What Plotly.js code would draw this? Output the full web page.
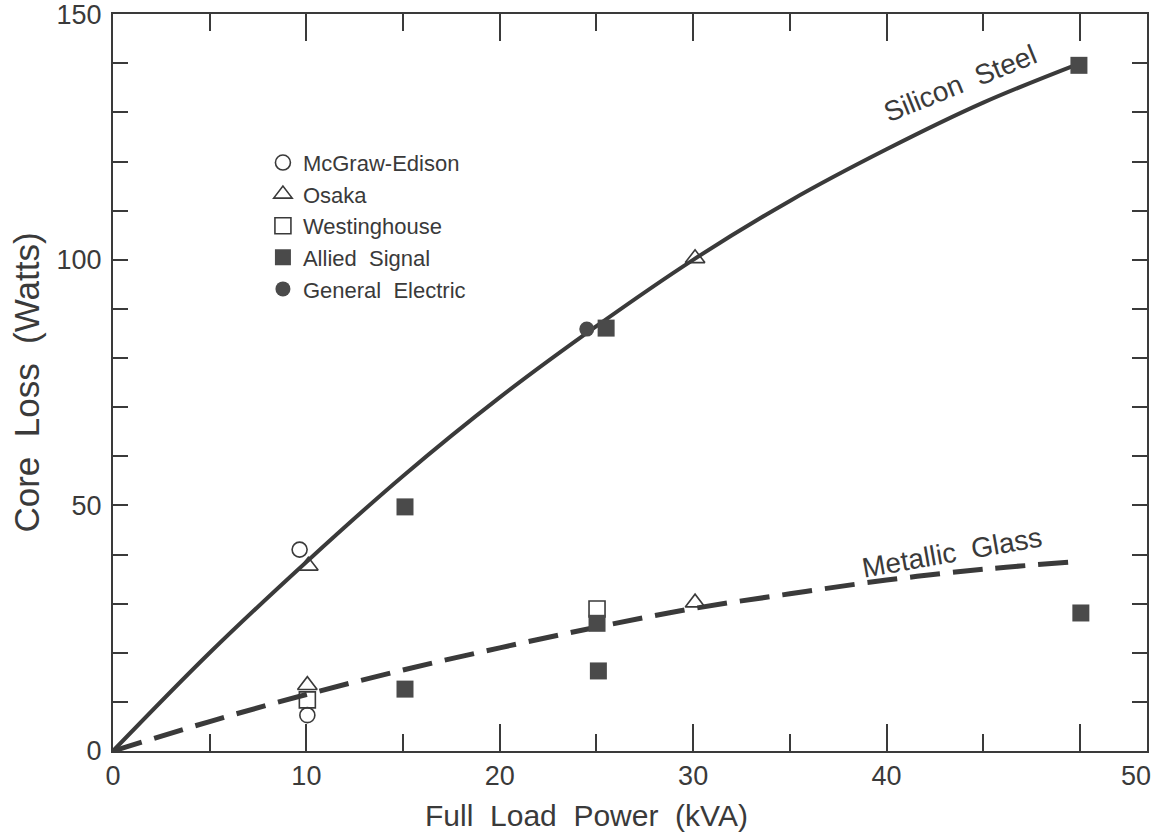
<!DOCTYPE html>
<html>
<head>
<meta charset="utf-8">
<script src="https://cdn.plot.ly/plotly-3.0.1.min.js"></script>
<style>html,body{margin:0;padding:0;background:#fff;}#chart{width:1154px;height:840px;}</style>
</head>
<body>
<div id="chart"></div>
<script>
// ---- data ----
const siliconSteelX = [0, 5, 10, 15, 20, 25, 30, 35, 40, 45, 50];
const siliconSteelY = [0, 20, 38.5, 56, 72, 86.5, 100, 112, 122.5, 132, 140];
const metallicGlassX = [0, 5, 10, 15, 20, 25, 30, 35, 40, 45, 49.7];
const metallicGlassY = [0, 6, 11.5, 16.5, 21, 25.2, 29, 32, 34.8, 37, 38.5];

const mcgrawX = [9.65, 10.05];
const mcgrawY = [41, 7.3];
const osakaX = [10.1, 10.05, 30.1, 30.1];
const osakaY = [37.7, 13.4, 100.3, 30.2];
const westX = [10.05, 25.03];
const westY = [10.4, 28.9];
const alliedX = [15.1, 15.1, 25.03, 25.1, 25.5, 49.95, 50.05];
const alliedY = [49.7, 12.6, 26, 16.3, 86.1, 139.6, 28.1];
const geX = [24.5];
const geY = [85.9];

const xTickVals = [0, 10, 20, 30, 40, 50];
const xTickText = ["0", "10", "20", "30", "40", ""];
const xMinorVals = [5, 15, 25, 35, 45];
const yTickVals = [0, 10, 20, 30, 40, 50, 60, 70, 80, 90, 100, 110, 120, 130, 140, 150];
const yTickText = ["0", "", "", "", "", "50", "", "", "", "", "100", "", "", "", "", "150"];

const ink = '#3a3a3a';
const font = 'Liberation Sans, Arial, sans-serif';

const traces = [
  {x: siliconSteelX, y: siliconSteelY, mode: 'lines', line: {color: ink, width: 4, shape: 'spline'}, showlegend: false, hoverinfo: 'skip'},
  {x: metallicGlassX, y: metallicGlassY, mode: 'lines', line: {color: ink, width: 5, shape: 'spline', dash: '30px,13px'}, showlegend: false, hoverinfo: 'skip'},
  {x: mcgrawX, y: mcgrawY, mode: 'markers', name: 'McGraw-Edison',
   marker: {symbol: 'circle-open', size: 15, color: ink, line: {width: 1.6, color: ink}}},
  {x: osakaX, y: osakaY, mode: 'markers', name: 'Osaka',
   marker: {symbol: 'triangle-up-open', size: 17, color: ink, line: {width: 1.6, color: ink}}},
  {x: westX, y: westY, mode: 'markers', name: 'Westinghouse',
   marker: {symbol: 'square-open', size: 16, color: ink, line: {width: 1.6, color: ink}}},
  {x: alliedX, y: alliedY, mode: 'markers', name: 'Allied  Signal',
   marker: {symbol: 'square', size: 17, color: '#4a4a4a', line: {width: 0}}},
  {x: geX, y: geY, mode: 'markers', name: 'General  Electric',
   marker: {symbol: 'circle', size: 15, color: '#4a4a4a', line: {width: 0}}}
];

const layout = {
  width: 1154, height: 840,
  margin: {l: 113, r: 7, t: 14, b: 89, pad: 0},
  paper_bgcolor: '#fff', plot_bgcolor: '#fff',
  font: {family: font, color: ink},
  showlegend: true,
  legend: {x: 0.145, y: 0.8267, xanchor: 'left', yanchor: 'top', bgcolor: 'rgba(0,0,0,0)',
           font: {size: 22, color: ink, family: font}, borderwidth: 0},
  xaxis: {
    range: [0, 53.47], showgrid: false, zeroline: false,
    showline: true, linecolor: ink, linewidth: 2, mirror: 'ticks',
    ticks: 'inside', ticklen: 27, tickwidth: 2, tickcolor: ink,
    tickmode: 'array', tickvals: xTickVals, ticktext: xTickText,
    tickfont: {size: 27, color: ink, family: font},
    minor: {tickvals: xMinorVals, ticks: 'inside', ticklen: 17, tickwidth: 2, tickcolor: ink, showgrid: false},
    fixedrange: true
  },
  yaxis: {
    range: [0, 150.05], showgrid: false, zeroline: false,
    showline: true, linecolor: ink, linewidth: 2, mirror: 'ticks',
    ticks: 'inside', ticklen: 15, tickwidth: 2, tickcolor: ink,
    tickmode: 'array', tickvals: yTickVals, ticktext: yTickText,
    tickfont: {size: 27, color: ink, family: font}, ticklabelstandoff: 4,
    ticklabeloverflow: 'allow',
    title: {text: 'Core  Loss  (Watts)', font: {size: 35, color: ink, family: font}, standoff: 6},
    fixedrange: true
  },
  annotations: [
    {x: 0.4575, y: -0.087, xref: 'paper', yref: 'paper', text: 'Full  Load  Power  (kVA)', showarrow: false,
     xanchor: 'center', yanchor: 'middle', font: {size: 30, color: ink, family: font}},
    {x: 52.9, y: 0, xref: 'x', yref: 'y', text: '50', showarrow: false, yanchor: 'top', yshift: -8,
     font: {size: 27, color: ink, family: font}},
    {x: 43.8, y: 136, xref: 'x', yref: 'y', text: 'Silicon  Steel', showarrow: false, textangle: -22,
     font: {size: 28, color: ink, family: font}},
    {x: 43.4, y: 40.5, xref: 'x', yref: 'y', text: 'Metallic  Glass', showarrow: false, textangle: -10,
     font: {size: 28, color: ink, family: font}}
  ]
};

Plotly.newPlot('chart', traces, layout, {displayModeBar: false, staticPlot: true});
</script>
</body>
</html>
